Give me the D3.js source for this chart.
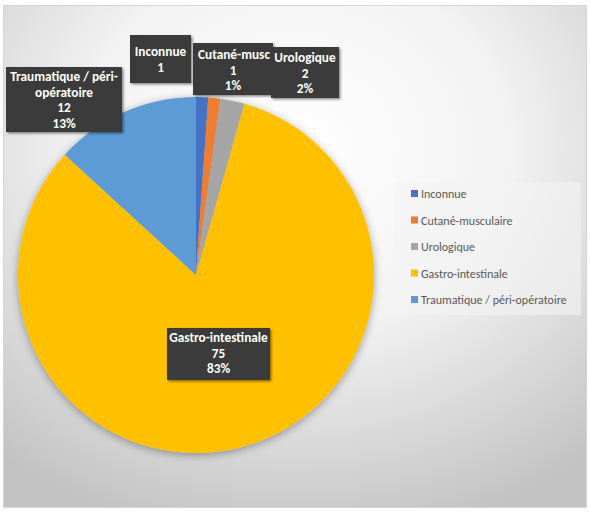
<!DOCTYPE html>
<html><head><meta charset="utf-8">
<script src="https://cdn.jsdelivr.net/npm/d3@7"></script>
<style>html,body{margin:0;padding:0;background:#fff;}svg{display:block;}</style>
</head><body>
<svg id="chart" width="590" height="512"></svg>
<script>
const categories = ["Inconnue","Cutané-musculaire","Urologique","Gastro-intestinale","Traumatique / péri-opératoire"];
const values = [1, 1, 2, 75, 12];
const percentLabels = ["1%", "1%", "2%", "83%", "13%"];
const labelLines = [
  ["Inconnue", "1"],
  ["Cutané-musc", "1", "1%"],
  ["Urologique", "2", "2%"],
  ["Gastro-intestinale", "75", "83%"],
  ["Traumatique / péri-", "opératoire", "12", "13%"]
];
const colors = ["#4472C4","#ED7D31","#A5A5A5","#FFC000","#5B9BD5"];

const font = "Carlito, Calibri, 'Open Sans', sans-serif";
const svg = d3.select("#chart");
const defs = svg.append("defs");

const bg = defs.append("radialGradient").attr("id","bg").attr("cx","50%").attr("cy","28%").attr("r","80%");
bg.append("stop").attr("offset","0").attr("stop-color","#ffffff");
bg.append("stop").attr("offset","0.45").attr("stop-color","#f3f3f3");
bg.append("stop").attr("offset","1").attr("stop-color","#c2c2c2");

const sh = defs.append("filter").attr("id","pieShadow").attr("x","-20%").attr("y","-20%").attr("width","140%").attr("height","140%");
sh.append("feDropShadow").attr("dx",0).attr("dy",2).attr("stdDeviation",4).attr("flood-color","#000").attr("flood-opacity",0.35);
const bs = defs.append("filter").attr("id","boxShadow").attr("x","-20%").attr("y","-20%").attr("width","140%").attr("height","140%");
bs.append("feDropShadow").attr("dx",1.5).attr("dy",1.5).attr("stdDeviation",1.2).attr("flood-color","#000").attr("flood-opacity",0.45);

svg.append("rect").attr("x",3.5).attr("y",5.5).attr("width",583).attr("height",502)
  .attr("fill","url(#bg)").attr("stroke","#d4d4d4").attr("stroke-width",1);

// Pie
const cx = 196, cy = 275, R = 178;
const pie = d3.pie().sort(null).value(d => d)(values);
const arc = d3.arc().innerRadius(0).outerRadius(R);
const g = svg.append("g").attr("transform",`translate(${cx},${cy})`);
g.append("g").attr("filter","url(#pieShadow)")
  .selectAll("path").data(pie).join("path")
  .attr("d", arc).attr("fill",(d,i)=>colors[i]);

// Data labels (box layout: x, y, width, height, first baseline)
const labelBoxes = [
  {x:130, y:35, w:61, h:48, b:56},
  {x:193, y:43, w:80, h:52, b:59},
  {x:271, y:47, w:68, h:51, b:62},
  {x:167, y:328, w:103, h:52, b:342},
  {x:6, y:67, w:116, h:65, b:81}
];
const lineH = 15.7;
const drawOrder = [0,1,2,4,3];
drawOrder.forEach(i => {
  const bx = labelBoxes[i];
  const lg = svg.append("g");
  if (i === 1) {
    const cp = defs.append("clipPath").attr("id","clip1");
    cp.append("rect").attr("x",bx.x).attr("y",bx.y).attr("width",bx.w).attr("height",bx.h);
  }
  lg.append("rect").attr("x",bx.x).attr("y",bx.y).attr("width",bx.w).attr("height",bx.h)
    .attr("fill","#3a3a3a").attr("filter","url(#boxShadow)");
  const t = lg.append("text").attr("font-family",font).attr("font-weight","bold")
    .attr("font-size",13.3).attr("fill","#ffffff").attr("text-anchor","middle");
  if (i === 1) t.attr("clip-path","url(#clip1)");
  labelLines[i].forEach((ln, k) => {
    t.append("tspan").attr("x", bx.x + bx.w/2 + (i===1 && k===0 ? 1 : 0)).attr("y", bx.b + k*lineH).text(ln);
  });
});

// Legend
const lgX = 395, lgY = 182;
svg.append("rect").attr("x",lgX).attr("y",lgY).attr("width",186).attr("height",133)
  .attr("fill","#f4f4f4").attr("opacity",0.6);
const legendY = d3.scalePoint().domain(categories).range([194, 300]);
const leg = svg.append("g").selectAll("g").data(categories).join("g")
  .attr("transform", d => `translate(411,${legendY(d)})`);
leg.append("rect").attr("x",0).attr("y",-4).attr("width",7).attr("height",7)
  .attr("fill",(d,i)=>colors[i]);
leg.append("text").attr("x",10).attr("y",4).attr("font-family",font).attr("font-size",12)
  .attr("fill","#595959").text(d=>d);
</script>
</body></html>
